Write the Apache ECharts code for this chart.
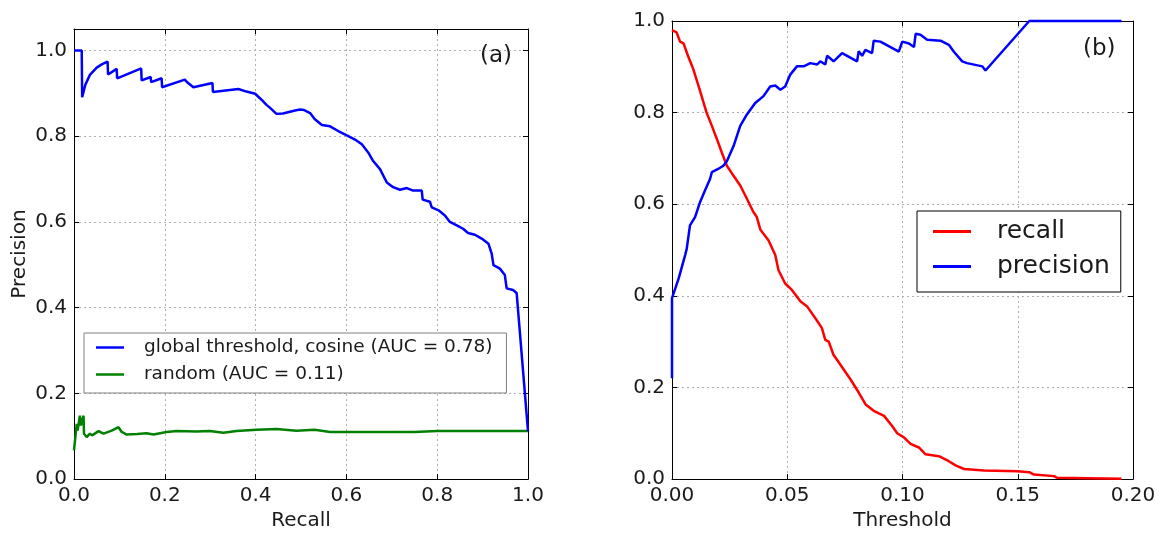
<!DOCTYPE html>
<html>
<head>
<meta charset="utf-8">
<script src="https://cdn.jsdelivr.net/npm/echarts@6/dist/echarts.min.js"></script>
<style>html,body{margin:0;padding:0;background:#fff}#c{width:1162px;height:536px}</style>
</head>
<body>
<div id="c"></div>
<script>
// Panel (a): precision-recall
const recallA = [0,0.017,0.018,0.025,0.035,0.05,0.062,0.074,0.075,0.094,0.095,0.148,0.149,0.169,0.170,0.193,0.194,0.244,0.25,0.263,0.305,0.306,0.362,0.380,0.399,0.413,0.424,0.432,0.446,0.46,0.487,0.498,0.507,0.52,0.53,0.546,0.564,0.582,0.601,0.619,0.634,0.648,0.659,0.674,0.689,0.703,0.718,0.733,0.747,0.766,0.768,0.784,0.788,0.803,0.817,0.828,0.843,0.857,0.868,0.883,0.898,0.913,0.920,0.924,0.938,0.949,0.953,0.967,0.975,1.0];
const precisionA = [1.0,1.0,0.891,0.92,0.943,0.960,0.968,0.974,0.944,0.957,0.935,0.958,0.930,0.938,0.926,0.935,0.914,0.932,0.925,0.914,0.924,0.903,0.910,0.904,0.899,0.885,0.873,0.866,0.852,0.853,0.860,0.862,0.861,0.854,0.84,0.826,0.823,0.812,0.802,0.792,0.781,0.762,0.742,0.723,0.692,0.681,0.675,0.679,0.673,0.673,0.652,0.647,0.634,0.627,0.615,0.600,0.592,0.584,0.574,0.570,0.561,0.549,0.526,0.499,0.491,0.476,0.445,0.441,0.434,0.112];
const randRecall = [0,0.006,0.008,0.013,0.015,0.021,0.022,0.028,0.035,0.04,0.054,0.065,0.083,0.098,0.105,0.116,0.139,0.160,0.175,0.204,0.226,0.27,0.299,0.329,0.358,0.402,0.446,0.49,0.53,0.564,0.65,0.75,0.8,0.9,1.0];
const randPrecision = [0.067,0.129,0.113,0.148,0.125,0.148,0.106,0.098,0.106,0.102,0.112,0.106,0.113,0.121,0.110,0.104,0.105,0.107,0.104,0.110,0.112,0.111,0.112,0.108,0.112,0.115,0.117,0.113,0.115,0.110,0.110,0.110,0.112,0.112,0.112];
// Panel (b): recall / precision vs threshold
const thrRecall = [0,0.002,0.0035,0.005,0.007,0.0093,0.012,0.015,0.0173,0.0195,0.0216,0.0238,0.0267,0.0296,0.0325,0.0353,0.0368,0.0383,0.0419,0.0448,0.0462,0.0491,0.052,0.0557,0.0586,0.0622,0.065,0.0665,0.068,0.070,0.073,0.0774,0.081,0.084,0.0875,0.092,0.0955,0.0977,0.1006,0.1035,0.1071,0.11,0.1158,0.1201,0.123,0.1267,0.1354,0.150,0.155,0.157,0.1658,0.167,0.195];
const recallB = [0.980,0.975,0.955,0.951,0.923,0.894,0.850,0.800,0.771,0.742,0.713,0.684,0.662,0.641,0.612,0.583,0.572,0.545,0.521,0.489,0.456,0.427,0.413,0.388,0.377,0.351,0.330,0.304,0.300,0.272,0.250,0.218,0.189,0.163,0.149,0.138,0.116,0.100,0.091,0.077,0.069,0.054,0.050,0.039,0.030,0.022,0.019,0.017,0.015,0.010,0.0065,0.003,0.001];
const thrPrecision = [0,0,0.0029,0.0057,0.0064,0.0078,0.01,0.0122,0.0143,0.0165,0.0173,0.020,0.0223,0.0238,0.0267,0.0296,0.0325,0.0361,0.0397,0.0426,0.0448,0.047,0.0491,0.0513,0.0542,0.0571,0.06,0.063,0.0643,0.0665,0.0673,0.0701,0.0738,0.0803,0.081,0.0825,0.0839,0.0868,0.0875,0.0904,0.0984,0.0999,0.1028,0.105,0.1057,0.1078,0.1107,0.1165,0.1201,0.1223,0.1259,0.128,0.1346,0.136,0.155,0.195];
const precisionB = [0.22,0.395,0.438,0.489,0.503,0.554,0.572,0.605,0.630,0.655,0.670,0.677,0.684,0.694,0.727,0.771,0.796,0.821,0.836,0.857,0.859,0.850,0.857,0.883,0.901,0.901,0.908,0.905,0.912,0.905,0.924,0.912,0.930,0.912,0.934,0.924,0.937,0.930,0.957,0.955,0.933,0.955,0.951,0.943,0.972,0.970,0.959,0.957,0.948,0.933,0.912,0.908,0.901,0.892,1.0,1.0];

const leftXTicks = {min:0, max:1, interval:0.2};
const leftYTicks = {min:0, max:1.05, interval:0.2};
const rightXTicks = {min:0, max:0.2, interval:0.05};
const rightYTicks = {min:0, max:1, interval:0.2};

const zip = (a,b) => a.map((v,i)=>[v,b[i]]);
const FONT = 'DejaVu Sans';
const TXT = '#1a1a1a';
const LW = 2.5;

function axis(base, opts) {
  return Object.assign({
    type:'value',
    min: base.min, max: base.max, interval: base.interval,
    axisLine:{show:true, onZero:false, lineStyle:{color:'#000', width:1}},
    axisTick:{show:true, inside:true, length:5, lineStyle:{color:'#000'}},
    axisLabel:{show:false},
    splitLine:{show:false}
  }, opts);
}
const grid = {show:true, lineStyle:{color:'#b0b0b0', type:[2,3], width:1}};
const lbl = (fmt) => ({show:true, color:TXT, fontSize:20, fontFamily:FONT, margin:7, formatter:fmt});

const chart = echarts.init(document.getElementById('c'), null, {renderer:'canvas'});
chart.setOption({
  animation:false,
  backgroundColor:'#fff',
  grid:[
    {left:74, top:29, width:454, height:455},
    {left:672, top:21, width:461, height:461}
  ],
  xAxis:[
    axis(leftXTicks, {gridIndex:0, position:'bottom', splitLine:grid, axisLabel:lbl(v=>v.toFixed(1)),
      name:'Recall', nameLocation:'middle', nameGap:20, nameTextStyle:{fontSize:20, color:TXT, fontFamily:FONT}}),
    axis(leftXTicks, {gridIndex:0, position:'top'}),
    axis(rightXTicks, {gridIndex:1, position:'bottom', splitLine:grid, axisLabel:lbl(v=>v.toFixed(2)),
      name:'Threshold', nameLocation:'middle', nameGap:20, nameTextStyle:{fontSize:20, color:TXT, fontFamily:FONT}}),
    axis(rightXTicks, {gridIndex:1, position:'top'})
  ],
  yAxis:[
    axis(leftYTicks, {gridIndex:0, position:'left', splitLine:grid, axisLabel:lbl(v=> v>1.001 ? '' : v.toFixed(1)),
      name:'Precision', nameLocation:'middle', nameGap:44, nameTextStyle:{fontSize:20, color:TXT, fontFamily:FONT}}),
    axis(leftYTicks, {gridIndex:0, position:'right'}),
    axis(rightYTicks, {gridIndex:1, position:'left', splitLine:grid, axisLabel:lbl(v=>v.toFixed(1))}),
    axis(rightYTicks, {gridIndex:1, position:'right'})
  ],
  legend:[
    {
      data:['global threshold, cosine (AUC = 0.78)','random (AUC = 0.11)'],
      orient:'vertical', left:84, top:333,
      padding:[5,14,9,12], itemGap:8, itemWidth:28, itemHeight:2.5, icon:'rect',
      borderColor:'#808080', borderWidth:1, backgroundColor:'#fff',
      textStyle:{fontSize:18.5, color:TXT, fontFamily:FONT, padding:[0,0,0,15]}
    },
    {
      data:['recall','precision'],
      orient:'vertical', left:917, top:211,
      padding:[8,11,13,16], itemGap:10, itemWidth:38, itemHeight:3, icon:'rect',
      borderColor:'#000', borderWidth:1, backgroundColor:'#fff',
      textStyle:{fontSize:25, color:TXT, fontFamily:FONT, padding:[0,0,0,21]}
    }
  ],
  graphic:[
    {type:'text', left:480, top:45, style:{text:'(a)', fontSize:23, fontFamily:FONT, fill:TXT}},
    {type:'text', left:1083, top:38, style:{text:'(b)', fontSize:23, fontFamily:FONT, fill:TXT}}
  ],
  series:[
    {name:'random (AUC = 0.11)', type:'line', xAxisIndex:0, yAxisIndex:0, data:zip(randRecall, randPrecision),
      showSymbol:false, lineStyle:{color:'#008000', width:LW}, itemStyle:{color:'#008000'}, z:2},
    {name:'global threshold, cosine (AUC = 0.78)', type:'line', xAxisIndex:0, yAxisIndex:0, data:zip(recallA, precisionA),
      showSymbol:false, lineStyle:{color:'#0000ff', width:LW}, itemStyle:{color:'#0000ff'}, z:3},
    {name:'recall', type:'line', xAxisIndex:2, yAxisIndex:2, data:zip(thrRecall, recallB),
      showSymbol:false, clip:false, lineStyle:{color:'#ff0000', width:LW}, itemStyle:{color:'#ff0000'}},
    {name:'precision', type:'line', xAxisIndex:2, yAxisIndex:2, data:zip(thrPrecision, precisionB),
      showSymbol:false, clip:false, lineStyle:{color:'#0000ff', width:LW}, itemStyle:{color:'#0000ff'}}
  ]
});
</script>
</body>
</html>
